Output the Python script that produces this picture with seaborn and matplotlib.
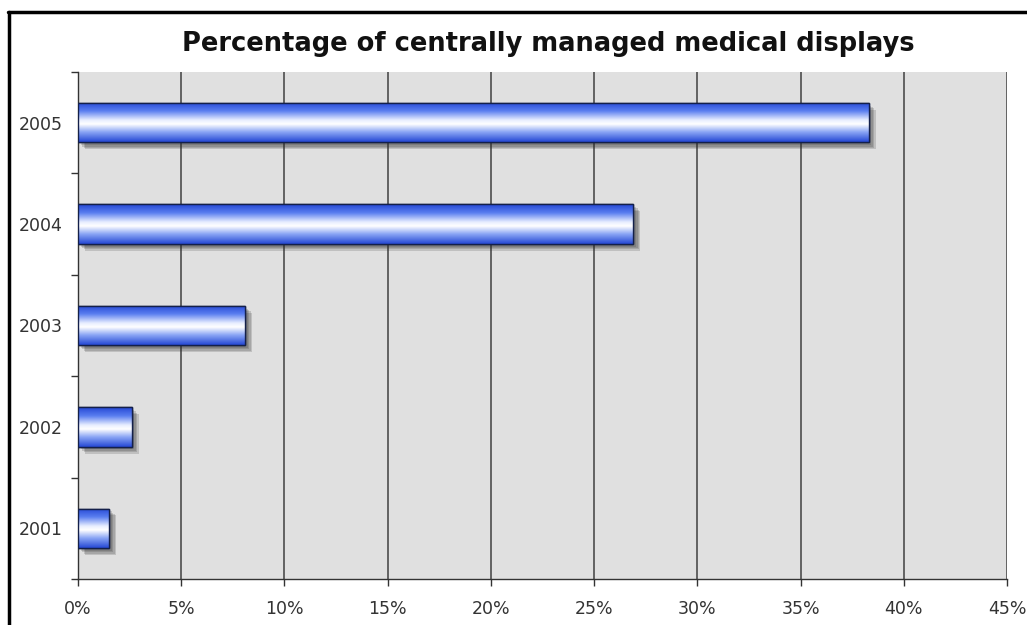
import numpy as np
import pandas as pd
import matplotlib
matplotlib.use("Agg")
import matplotlib.pyplot as plt
import matplotlib.patheffects as pe
from matplotlib.colors import LinearSegmentedColormap
from matplotlib.lines import Line2D
from matplotlib.ticker import FixedLocator, PercentFormatter
import seaborn as sns

# --- data ---
years = ["2005", "2004", "2003", "2002", "2001"]
share_pct = [38.3, 26.9, 8.1, 2.6, 1.5]
x_ticks = [0, 5, 10, 15, 20, 25, 30, 35, 40, 45]

df = pd.DataFrame({"Year": years, "Share": share_pct})

sns.set_theme(style="white")
plt.rcParams["font.family"] = ["DejaVu Sans"]

fig = plt.figure(figsize=(10.27, 6.25), dpi=100)
ax = fig.add_axes([78 / 1027, 1 - 579 / 625, 929 / 1027, 507 / 625])
ax.set_facecolor("#e0e0e0")

sns.barplot(data=df, x="Share", y="Year", order=years, orient="h",
            width=0.39, color="#3a62e6", edgecolor="#14204a", linewidth=1.0,
            ax=ax, zorder=3)

# cylinder look: gradient clipped to each bar + soft drop shadow
tube = LinearSegmentedColormap.from_list(
    "tube", [(0.0, "#2447d4"), (0.22, "#5a7ef0"), (0.45, "#e8eeff"),
             (0.55, "#ffffff"), (0.75, "#8aa5f5"), (1.0, "#2447d4")])
grad = np.linspace(0, 1, 256).reshape(-1, 1)
soft_shadow = [pe.SimplePatchShadow(offset=(o, -o), shadow_rgbFace="#303030", alpha=0.18)
               for o in (2, 3, 4, 5)]
for p in list(ax.patches):
    p.set_path_effects(soft_shadow + [pe.Normal()])
    x0, y0 = p.get_x(), p.get_y()
    w, h = p.get_width(), p.get_height()
    im = ax.imshow(grad, cmap=tube, aspect="auto", extent=(x0, x0 + w, y0 + h, y0),
                   zorder=3.5, interpolation="bilinear")
    im.set_clip_path(p)
    # edge on top of gradient
    edge = plt.Rectangle((x0, y0), w, h, fill=False, edgecolor="#14204a", linewidth=1.0, zorder=4)
    ax.add_patch(edge)

ax.set_xlim(0, 45)
ax.set_ylim(4.5, -0.5)
ax.xaxis.set_major_locator(FixedLocator(x_ticks))
ax.xaxis.set_major_formatter(PercentFormatter(decimals=0))
ax.yaxis.set_minor_locator(FixedLocator(np.arange(-0.5, 5, 1.0)))

ax.grid(axis="x", color="#404040", linewidth=1.1, zorder=0)
ax.set_axisbelow(True)
ax.set_xlabel("")
ax.set_ylabel("")

for s in ["top", "right"]:
    ax.spines[s].set_visible(False)
for s in ["left", "bottom"]:
    ax.spines[s].set_color("#333333")
    ax.spines[s].set_linewidth(1.0)

ax.tick_params(axis="x", which="major", bottom=True, length=5, width=1, color="#333333",
               labelsize=12.5, labelcolor="#333333", pad=10)
ax.tick_params(axis="y", which="major", left=False, length=0, labelsize=12.5,
               labelcolor="#333333", pad=11)
ax.tick_params(axis="y", which="minor", left=True, length=5, width=1, color="#333333")

fig.text(548 / 1027, 1 - 44 / 625, "Percentage of centrally managed medical displays",
         ha="center", va="center", fontsize=18.5, fontweight="bold", color="#111111")

# outer frame (left and top edges visible in the reference)
fig.add_artist(Line2D([9 / 1027, 9 / 1027], [0, 1 - 12 / 625], transform=fig.transFigure,
                      color="black", linewidth=2.5))
fig.add_artist(Line2D([8 / 1027, 1], [1 - 12 / 625, 1 - 12 / 625], transform=fig.transFigure,
                      color="black", linewidth=2.5))

fig.savefig("out.png", dpi=100)
